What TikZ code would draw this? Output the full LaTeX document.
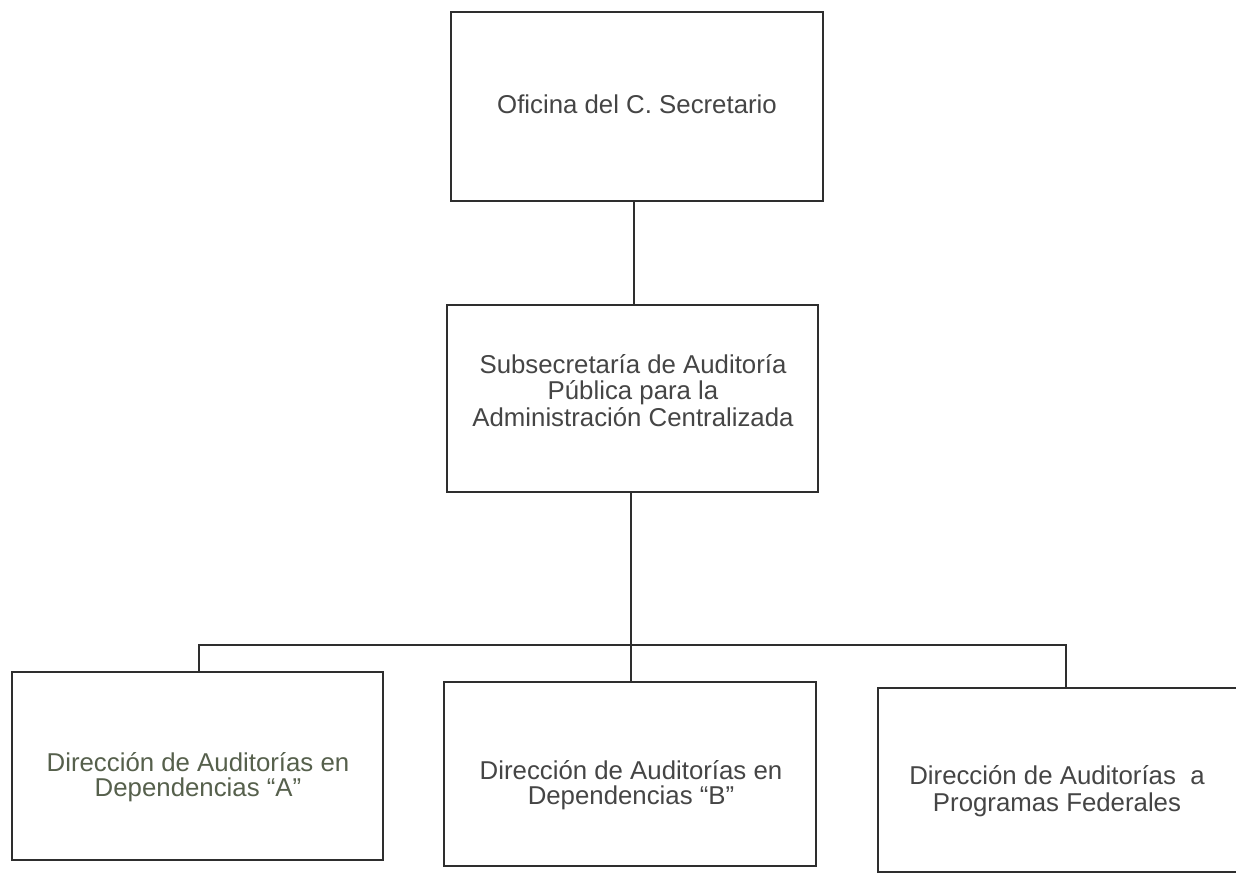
\documentclass[tikz,border=0pt]{standalone}
\usepackage{fontspec}
\setmainfont{Liberation Sans}
\definecolor{linec}{HTML}{2E2E2E}
\definecolor{txtc}{HTML}{454545}
\definecolor{txtg}{HTML}{56604C}
\begin{document}
\begin{tikzpicture}[x=1pt,y=-1pt,
  orgbox/.style={draw=linec,line width=1.6pt,rectangle,inner sep=0pt},
  lbl/.style={anchor=base,align=center,inner sep=0pt,text=txtc,
    font=\fontsize{25.8}{26.5}\selectfont},
  conn/.style={draw=linec,line width=1.5pt}]
\useasboundingbox (0,0) rectangle (1236,874);
\clip (0,0) rectangle (1236,874);
\fill[white] (0,0) rectangle (1236,874);
% boxes
\node[orgbox,minimum width=372pt,minimum height=189pt] (sec) at (637,106.5) {};
\node[orgbox,minimum width=371pt,minimum height=187pt] (sub) at (632.5,398.5) {};
\node[orgbox,minimum width=371pt,minimum height=188pt] (da) at (197.5,766) {};
\node[orgbox,minimum width=372pt,minimum height=184pt] (db) at (630,774) {};
\node[orgbox,minimum width=372pt,minimum height=184pt] (dc) at (1064,780) {};
% texts (base anchor = last line baseline)
\node[lbl] (secT) at (637,114) {Oficina del C. Secretario};
\node[lbl] (subT) at (633,426) {Subsecretaría de Auditoría\\Pública para la\\Administración Centralizada};
\node[lbl,text=txtg,font=\fontsize{25.8}{25}\selectfont] (daT) at (198,796) {Dirección de Auditorías en\\Dependencias “A”};
\node[lbl,font=\fontsize{25.8}{24.5}\selectfont] (dbT) at (631,804) {Dirección de Auditorías en\\Dependencias “B”};
\node[lbl,font=\fontsize{25.8}{26.5}\selectfont] (dcT) at (1057,811) {Dirección de Auditorías\ \ a\\Programas Federales};
% connectors
\coordinate (bus) at (631,645);
\draw[conn] (sec.south -| 634,0) -- (sub.north -| 634,0);
\draw[conn] (sub.south -| 631,0) -- (db.north -| 631,0);
\draw[conn] (da.north -| 199,0) |- (bus) -| (dc.north -| 1066,0);
\end{tikzpicture}
\end{document}
